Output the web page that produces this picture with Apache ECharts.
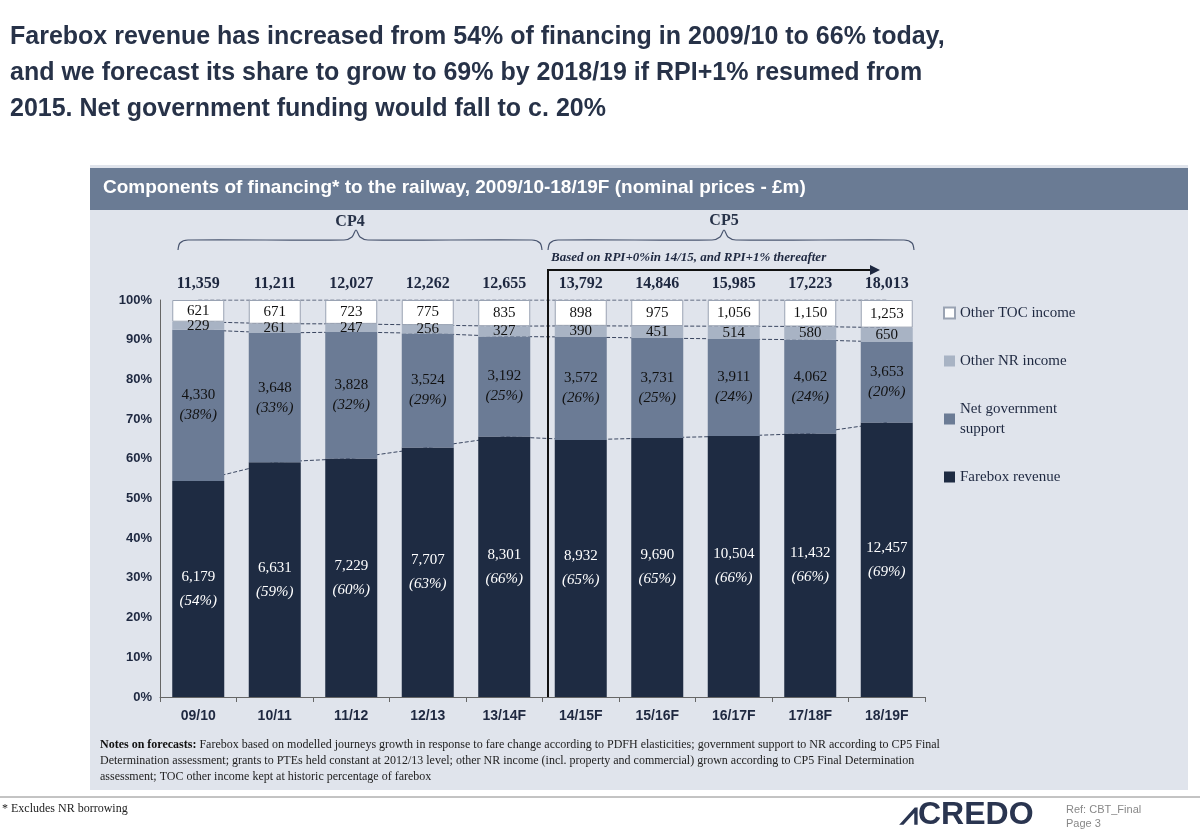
<!DOCTYPE html>
<html><head><meta charset="utf-8">
<script src="https://cdn.jsdelivr.net/npm/echarts@6/dist/echarts.min.js"></script>
<style>html,body{margin:0;padding:0;background:#fff}#c{width:1200px;height:830px}</style>
</head><body><div id="c"></div>
<script>
const categories=['09/10','10/11','11/12','12/13','13/14F','14/15F','15/16F','16/17F','17/18F','18/19F'];
const farebox=[6179,6631,7229,7707,8301,8932,9690,10504,11432,12457];
const govSupport=[4330,3648,3828,3524,3192,3572,3731,3911,4062,3653];
const nrIncome=[229,261,247,256,327,390,451,514,580,650];
const tocIncome=[621,671,723,775,835,898,975,1056,1150,1253];
const totals=[11359,11211,12027,12262,12655,13792,14846,15985,17223,18013];
const yTicks=['0%','10%','20%','30%','40%','50%','60%','70%','80%','90%','100%'];

const fmt=v=>v.toLocaleString('en-US');
const pct=(arr)=>arr.map((v,i)=>v/totals[i]*100);
const pF=pct(farebox),pG=pct(govSupport),pN=pct(nrIncome),pT=pct(tocIncome);
const c1=pF, c2=pF.map((v,i)=>v+pG[i]), c3=c2.map((v,i)=>v+pN[i]);
const serif='Liberation Serif';
const ch=echarts.init(document.getElementById('c'));
function brace(x1,xm,x2){
 const y=240,top=230,b=250;
 return [[x1,b],[x1+2,y+3],[x1+10,y],[xm-12,y],[xm-4,y-3],[xm,top],[xm+4,y-3],[xm+12,y],[x2-10,y],[x2-2,y+3],[x2,b]];
}
function barSeries(name,p,raw,color,lab){
 const toc=name==='Other TOC income';
 return {name,type:'bar',stack:'s',barWidth:52,z:3,
  data:p.map((v,i)=>({value:v,raw:raw[i]})),
  itemStyle:{color,borderColor:toc?'#9aa3b3':color,borderWidth:toc?1:0},
  label:lab};
}
const dashed=(d)=>({type:'line',data:d,z:1,symbol:'none',silent:true,lineStyle:{type:'dashed',color:'#3a4660',width:1}});
ch.setOption({
 animation:false,
 graphic:[
  {type:'rect',shape:{x:90,y:165,width:1098,height:625},style:{fill:'#e0e4ec'},z:-10},
  {type:'rect',shape:{x:90,y:168,width:1098,height:42},style:{fill:'#6a7b94'},z:-9},
  {type:'text',x:10,y:19,style:{text:'Farebox revenue has increased from 54% of financing in 2009/10 to 66% today,\nand we forecast its share to grow to 69% by 2018/19 if RPI+1% resumed from\n2015. Net government funding would fall to c. 20%',font:'bold 25px Arial',fill:'#273248',lineHeight:36}},
  {type:'text',x:103,y:178,style:{text:'Components of financing* to the railway, 2009/10-18/19F (nominal prices - £m)',font:'bold 19px Arial',fill:'#fff'}},
  {type:'text',x:350,y:214,style:{text:'CP4',font:'bold 16px '+serif,fill:'#273248',align:'center'}},
  {type:'text',x:724,y:213,style:{text:'CP5',font:'bold 16px '+serif,fill:'#273248',align:'center'}},
  {type:'polyline',shape:{points:brace(178,356,542),smooth:0.3},style:{stroke:'#4a5670',fill:null,lineWidth:1.2}},
  {type:'polyline',shape:{points:brace(548,724,914),smooth:0.3},style:{stroke:'#4a5670',fill:null,lineWidth:1.2}},
  {type:'text',x:551,y:251,style:{text:'Based on RPI+0%in 14/15, and RPI+1% thereafter',font:'italic bold 13px '+serif,fill:'#1e2840'}},
  {type:'polyline',shape:{points:[[548,697],[548,270],[870,270]]},style:{stroke:'#111',lineWidth:2,fill:null},z:10},
  {type:'polygon',shape:{points:[[870,265],[880,270],[870,275]]},style:{fill:'#1e2840'},z:10},
  {type:'line',shape:{x1:0,y1:797,x2:1200,y2:797},style:{stroke:'#888',lineWidth:1}},
  {type:'text',x:100,y:737,style:{text:'{b|Notes on forecasts:} Farebox based on modelled journeys growth in response to fare change according to PDFH elasticities; government support to NR according to CP5 Final\nDetermination assessment; grants to PTEs held constant at 2012/13 level; other NR income (incl. property and commercial) grown according to CP5 Final Determination\nassessment; TOC other income kept at historic percentage of farebox',font:'12px '+serif,fill:'#222',lineHeight:16,rich:{b:{font:'bold 12px '+serif,fill:'#111'}}}},
  {type:'text',x:2,y:803,style:{text:'* Excludes NR borrowing',font:'12px '+serif,fill:'#222'}},
  {type:'text',x:900,y:799,style:{text:'⩘CREDO',font:'bold 32px Arial',fill:'#2a3550'}},
  {type:'text',x:1066,y:803,style:{text:'Ref: CBT_Final\nPage 3',font:'11px Arial',fill:'#888',lineHeight:14}}
 ],
 legend:{orient:'vertical',left:938,top:298,itemWidth:11,itemHeight:11,itemGap:28,icon:'rect',
  data:['Other TOC income','Other NR income','Net government\nsupport','Farebox revenue'],
  textStyle:{fontFamily:serif,fontSize:15,color:'#1e2840',lineHeight:20}},
 grid:{left:160,right:275,top:300,bottom:133},
 xAxis:[{type:'category',data:categories,axisTick:{show:true,lineStyle:{color:'#666'}},axisLine:{lineStyle:{color:'#666'}},
   axisLabel:{fontFamily:'Arial',fontWeight:'bold',fontSize:14,color:'#1e2840',margin:12}},
  {type:'category',position:'top',data:totals.map(fmt),axisLine:{show:false},axisTick:{show:false},
   axisLabel:{fontFamily:serif,fontWeight:'bold',fontSize:16,color:'#1e2840',margin:8}}],
 yAxis:{type:'value',min:0,max:100,interval:10,splitLine:{show:false},axisLine:{show:true,lineStyle:{color:'#666'}},axisTick:{show:false},
  axisLabel:{formatter:(v,i)=>yTicks[i],fontFamily:'Arial',fontWeight:'bold',fontSize:13,color:'#1e2840'}},
 series:[
  barSeries('Farebox revenue',pF,farebox,'#1e2b42',{show:true,position:'inside',fontFamily:serif,fontSize:15,color:'#fff',lineHeight:24,
   formatter:p=>fmt(p.data.raw)+'\n{i|('+Math.round(p.value)+'%)}',rich:{i:{fontStyle:'italic',fontSize:15,color:'#fff',fontFamily:serif}}}),
  barSeries('Net government\nsupport',pG,govSupport,'#6b7b95',{show:true,position:'inside',fontFamily:serif,fontSize:15,color:'#111',lineHeight:20,
   formatter:p=>fmt(p.data.raw)+'\n{i|('+Math.round(p.value)+'%)}',rich:{i:{fontStyle:'italic',fontSize:15,color:'#111',fontFamily:serif}}}),
  barSeries('Other NR income',pN,nrIncome,'#a8b3c4',{show:true,position:'inside',fontFamily:serif,fontSize:15,color:'#111',formatter:p=>fmt(p.data.raw)}),
  barSeries('Other TOC income',pT,tocIncome,'#ffffff',{show:true,position:'inside',fontFamily:serif,fontSize:15,color:'#111',formatter:p=>fmt(p.data.raw)}),
  dashed(c1),dashed(c2),dashed(c3),dashed(categories.map(()=>100))
 ]
});
</script></body></html>
